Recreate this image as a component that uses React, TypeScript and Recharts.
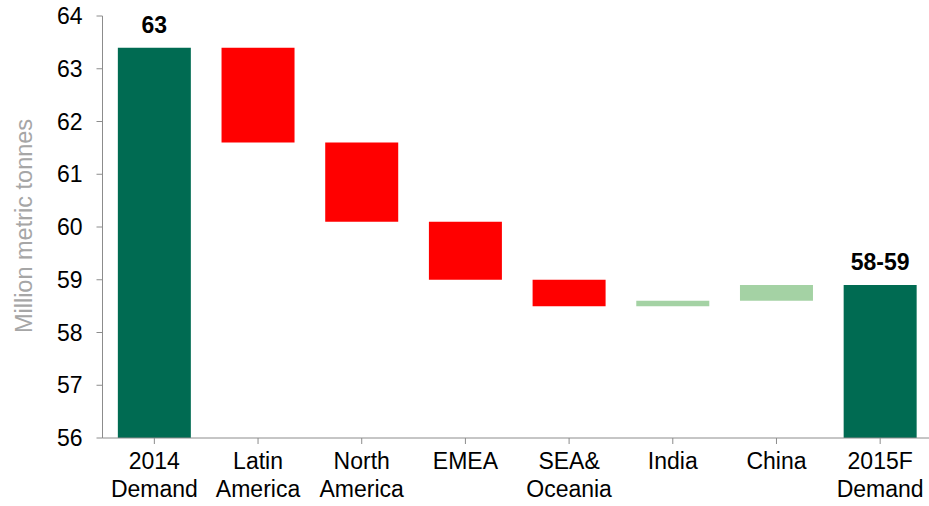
import React from "react";
import { BarChart, Bar, XAxis, YAxis, Cell, LabelList } from "recharts";

const categories = ["2014\nDemand", "Latin\nAmerica", "North\nAmerica", "EMEA", "SEA&\nOceania", "India", "China", "2015F\nDemand"];
const lowValues = [56, 61.6, 60.1, 59.0, 58.5, 58.5, 58.6, 56];
const highValues = [63.4, 63.4, 61.6, 60.1, 59.0, 58.6, 58.9, 58.9];
const kinds = ["total", "down", "down", "down", "down", "up", "up", "total"];
const barLabels = ["63", "", "", "", "", "", "", "58-59"];
const yTicks = [56, 57, 58, 59, 60, 61, 62, 63, 64];

const COLORS: Record<string, string> = { total: "#006B52", down: "#FF0000", up: "#A4D2A4" };
const FONT = "'Liberation Sans', Arial, sans-serif";

const data = categories.map((c, i) => ({
  name: c,
  range: [lowValues[i], highValues[i]],
  kind: kinds[i],
  label: barLabels[i],
}));

const XTick = (props: any) => {
  const { x, y, payload } = props;
  const lines = String(payload.value).split("\n");
  return (
    <text x={x} y={y + 23} textAnchor="middle" fill="#000" fontSize={23} fontFamily={FONT}>
      {lines.map((l, i) => (
        <tspan key={i} x={x} dy={i === 0 ? 0 : 28}>
          {l}
        </tspan>
      ))}
    </text>
  );
};

const YLabel = () => (
  <text
    x={24}
    y={226}
    transform="rotate(-90 24 226)"
    textAnchor="middle"
    dominantBaseline="central"
    fill="#A6A6A6"
    fontSize={23.5}
    fontFamily={FONT}
  >
    Million metric tonnes
  </text>
);

export default function App() {
  return (
    <div style={{ position: "absolute", left: 0, top: 0, width: 929, height: 506, background: "#fff", overflow: "hidden" }}>
      <BarChart width={932} height={506} data={data} margin={{ top: 16, right: 0, bottom: 0, left: 0 }} barCategoryGap="14.8%">
        <XAxis
          dataKey="name"
          interval={0}
          tick={<XTick />}
          axisLine={{ stroke: "#8C8C8C" }}
          tickLine={{ stroke: "#8C8C8C" }}
          tickSize={6}
          height={68}
        />
        <YAxis
          type="number"
          domain={[56, 64]}
          ticks={yTicks}
          interval={0}
          allowDataOverflow
          width={102.5}
          axisLine={{ stroke: "#8C8C8C" }}
          tickLine={{ stroke: "#8C8C8C" }}
          tickSize={6}
          tickMargin={14}
          tick={{ fill: "#000", fontSize: 23, fontFamily: FONT }}
          label={<YLabel />}
        />
        <Bar dataKey="range" isAnimationActive={false}>
          {data.map((d, i) => (
            <Cell key={i} fill={COLORS[d.kind]} />
          ))}
          <LabelList
            dataKey="label"
            position="top"
            offset={15}
            fill="#000"
            fontSize={23}
            fontWeight="bold"
            fontFamily={FONT}
          />
        </Bar>
      </BarChart>
    </div>
  );
}
